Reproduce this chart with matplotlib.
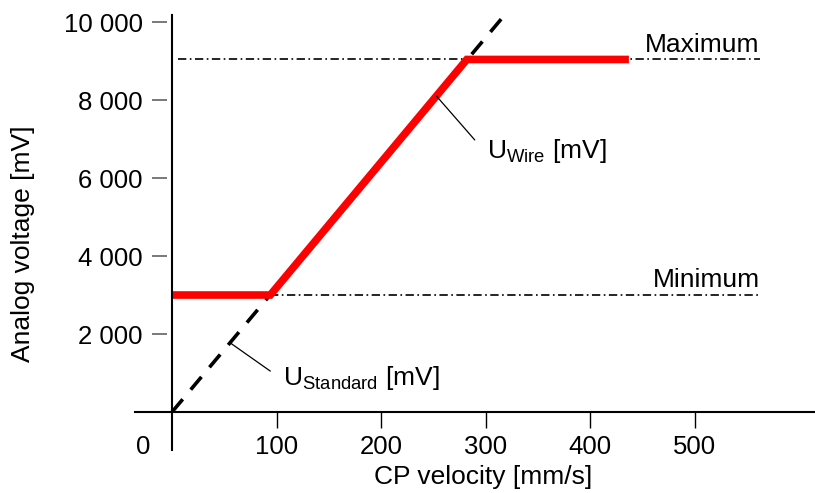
import matplotlib
matplotlib.use("Agg")
import matplotlib.pyplot as plt

plt.rcParams['font.family'] = ['Liberation Sans', 'DejaVu Sans']
plt.rcParams['mathtext.fontset'] = 'custom'
plt.rcParams['mathtext.rm'] = 'Liberation Sans'
plt.rcParams['mathtext.it'] = 'Liberation Sans'
plt.rcParams['lines.scale_dashes'] = False

# datos
vel_wire = [0, 94, 282, 437]
u_wire = [3000, 3000, 9040, 9040]
vel_std = [0, 315]
u_std = [0, 10080]
u_max = 9040
u_min = 3000
max_span = [6, 562]
min_span = [94, 562]

x_ticks = [100, 200, 300, 400, 500]
y_ticks = [2000, 4000, 6000, 8000, 10000]
y_labels = ["2 000", "4 000", "6 000", "8 000", "10 000"]

fig = plt.figure(figsize=(8.15, 4.93), dpi=100)
ax = fig.add_axes([135 / 815, 43 / 493, 680 / 815, 435 / 493])
ax.set_xlim(-35.4, 615)
ax.set_ylim(-974, 10180)

for s in ['top', 'right']:
    ax.spines[s].set_visible(False)
ax.spines['left'].set_position(('data', 0))
ax.spines['bottom'].set_position(('data', 0))
ax.spines['left'].set_linewidth(1.5)
ax.spines['bottom'].set_linewidth(1.5)

ax.set_xticks(x_ticks)
ax.set_xticklabels([str(v) for v in x_ticks], fontsize=18.5)
ax.tick_params(axis='x', direction='out', length=11.5, width=1, pad=5)
ax.set_yticks(y_ticks)
ax.set_yticklabels(y_labels, fontsize=18.5)
ax.tick_params(axis='y', length=0, pad=21)
# marcas grises del eje y, separadas del eje
ax.hlines(y_ticks, -19, -5, color='#555555', lw=1.1, clip_on=False)
ax.text(-27.8, -590, "0", ha='center', va='top', fontsize=18.5)

# lineas de limite
ax.plot(max_span, [u_max, u_max], color='black', lw=1.2, dashes=(6, 2.5, 1.2, 2.5))
ax.plot(min_span, [u_min, u_min], color='black', lw=1.2, dashes=(6, 2.5, 1.2, 2.5))

ax.plot(vel_std, u_std, color='black', lw=2.6, dashes=(12, 9))
ax.plot(vel_wire, u_wire, color='#ff0000', lw=5.5, solid_joinstyle='miter',
        solid_capstyle='butt')

ax.text(562, 9230, "Maximum", ha='right', va='baseline', fontsize=19)
ax.text(562, 3200, "Minimum", ha='right', va='baseline', fontsize=19)

slope = u_std[1] / vel_std[1]
ax.annotate(r"U$_{\mathrm{Wire}}$ [mV]", xy=(253, 8100), xytext=(301, 6510),
            fontsize=19, va='baseline',
            arrowprops=dict(arrowstyle='-', lw=0.9, color='black',
                            shrinkA=0, shrinkB=0, relpos=(-0.1, 0.9)))
ax.annotate(r"U$_{\mathrm{Standard}}$ [mV]", xy=(55.5, slope * 55.5), xytext=(106, 690),
            fontsize=19, va='baseline',
            arrowprops=dict(arrowstyle='-', lw=0.9, color='black',
                            shrinkA=0, shrinkB=0, relpos=(-0.08, 0.75)))

ax.set_xlabel("CP velocity [mm/s]", fontsize=19)
ax.xaxis.set_label_coords(0.512, -0.035)
ax.set_ylabel("Analog voltage [mV]", fontsize=19)
ax.yaxis.set_label_coords(-0.147, 0.474)

fig.savefig("out.png", dpi=100)
